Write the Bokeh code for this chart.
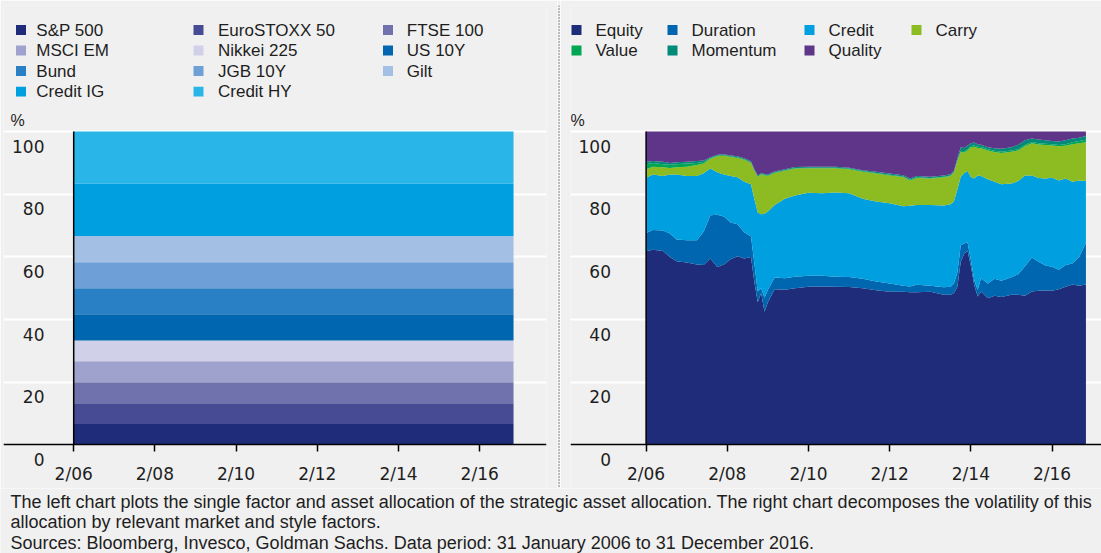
from bokeh.plotting import figure
from bokeh.models import Range1d, FixedTicker, Label, BoxAnnotation, Span, ColumnDataSource
from bokeh.layouts import row, column
from bokeh.embed import file_html
from bokeh.resources import INLINE

# ---------------- data: left chart (strategic asset allocation, %) ----------------
asset_names = ["S&P 500", "EuroSTOXX 50", "FTSE 100", "MSCI EM", "Nikkei 225",
               "US 10Y", "Bund", "JGB 10Y", "Gilt", "Credit IG", "Credit HY"]
asset_weights = [6.67, 6.67, 6.67, 6.67, 6.67, 8.33, 8.33, 8.33, 8.33, 16.67, 16.67]
asset_colors = ["#1f2c79", "#474b93", "#6f72ac", "#9fa2cc", "#d0d1e8",
                "#0066b0", "#2a80c4", "#6e9fd6", "#a3bfe4", "#00a0e0", "#2ab5e8"]
alloc_period = ["2006-02", "2016-12"]

# ---------------- data: right chart (volatility decomposition, %) ----------------
factor_names = ["Equity", "Duration", "Credit", "Carry", "Value", "Momentum", "Quality"]
factor_colors = ["#1f2c79", "#0066b0", "#00a0e0", "#8cbc22", "#00a651", "#008a78", "#5e3588"]

dates = ["2006-02", "2006-04", "2006-07", "2006-09", "2006-11", "2007-02", "2007-05", "2007-07",
         "2007-09", "2007-11", "2008-01", "2008-03", "2008-05", "2008-07", "2008-09", "2008-10",
         "2008-11", "2008-12", "2009-01", "2009-02", "2009-04", "2009-07", "2009-10", "2010-02",
         "2010-06", "2010-10", "2011-02", "2011-06", "2011-10", "2012-02", "2012-06", "2012-08",
         "2012-10", "2013-02", "2013-06", "2013-08", "2013-09", "2013-10", "2013-11", "2013-12",
         "2014-01", "2014-02", "2014-03", "2014-04", "2014-05", "2014-07", "2014-09", "2014-11",
         "2015-02", "2015-04", "2015-06", "2015-08", "2015-10", "2015-12", "2016-02", "2016-04",
         "2016-06", "2016-08", "2016-10", "2016-12"]
equity = [61.8, 62.3, 61.9, 60.0, 58.6, 58.2, 57.6, 57.4, 59.5, 56.8, 57.6, 59.3, 60.2, 59.5, 60.0, 52.0,
          45.5, 48.5, 42.5, 45.5, 49.7, 49.5, 50.0, 50.5, 50.6, 50.5, 50.4, 50.0, 49.4, 48.9, 48.9, 48.7,
          48.7, 48.9, 47.9, 47.9, 48.5, 50.5, 58.5, 61.0, 62.0, 57.0, 51.0, 47.4, 49.0, 46.8, 47.6, 47.2,
          47.9, 47.9, 47.6, 49.0, 49.2, 49.3, 49.2, 49.7, 50.5, 51.2, 50.8, 51.2]
duration = [5.8, 6.3, 6.5, 7.5, 7.0, 7.1, 7.7, 10.6, 13.8, 16.7, 15.3, 11.7, 10.2, 8.4, 6.5, 6.0,
            3.5, 1.5, 4.5, 4.0, 3.7, 3.7, 3.7, 3.5, 3.4, 3.2, 3.2, 3.0, 2.8, 2.6, 1.9, 1.9,
            2.4, 1.9, 2.4, 2.6, 3.1, 4.5, 5.2, 3.3, 2.7, 2.0, 1.5, 2.1, 4.2, 4.7, 5.4, 5.2,
            5.6, 6.6, 9.4, 10.8, 9.3, 8.0, 7.7, 6.2, 6.9, 6.7, 9.2, 13.3]
credit = [17.7, 17.7, 17.4, 18.8, 20.7, 20.5, 20.5, 18.7, 14.9, 13.5, 13.4, 14.8, 15.0, 16.1, 16.7, 20.5,
          25.2, 23.6, 26.8, 25.0, 23.2, 25.4, 25.9, 26.5, 26.3, 26.9, 26.7, 25.6, 25.5, 25.6, 25.4, 25.7,
          25.5, 25.8, 26.1, 26.3, 26.2, 26.5, 21.9, 22.4, 22.7, 26.5, 32.5, 36.5, 32.6, 33.3, 31.0, 30.8,
          29.9, 29.7, 29.0, 26.2, 26.7, 27.7, 28.4, 28.5, 27.6, 26.1, 24.4, 19.7]
carry = [2.7, 2.5, 2.8, 2.1, 2.3, 3.0, 3.5, 3.1, 3.1, 5.1, 6.0, 6.1, 6.2, 7.0, 6.8, 9.0,
         11.3, 12.7, 12.2, 11.3, 10.2, 8.9, 8.6, 7.8, 8.0, 7.7, 7.7, 8.6, 8.9, 8.9, 9.3, 8.1,
         8.6, 8.4, 9.0, 9.0, 9.2, 9.0, 7.9, 6.6, 6.6, 9.5, 10.2, 8.8, 8.9, 9.2, 9.5, 10.0,
         10.2, 9.8, 9.4, 10.3, 10.7, 10.7, 10.3, 10.9, 10.5, 12.0, 11.9, 12.4]
value_factor = [1.6, 1.2, 1.0, 1.0, 1.0, 1.0, 0.7, 0.5, 0.2, 0.2, 0.2, 0.2, 0.2, 0.2, 0.2, 0.2,
                0.2, 0.2, 0.2, 0.2, 0.2, 0.2, 0.2, 0.2, 0.2, 0.2, 0.2, 0.2, 0.2, 0.2, 0.2, 0.2,
                0.2, 0.2, 0.2, 0.2, 0.2, 0.3, 0.4, 0.4, 0.4, 0.4, 0.4, 0.4, 0.4, 0.4, 0.4, 0.4,
                0.4, 0.4, 0.4, 0.4, 0.4, 0.4, 0.4, 0.4, 0.5, 0.6, 0.7, 0.8]
momentum = [0.8, 0.6, 0.8, 0.6, 0.6, 0.6, 0.6, 0.5, 0.3, 0.3, 0.3, 0.3, 0.3, 0.3, 0.3, 0.3,
            0.3, 0.3, 0.3, 0.3, 0.3, 0.3, 0.3, 0.3, 0.3, 0.3, 0.3, 0.3, 0.4, 0.4, 0.4, 0.4,
            0.4, 0.4, 0.4, 0.4, 0.4, 0.7, 1.1, 1.1, 1.2, 0.9, 0.9, 0.8, 0.7, 0.6, 0.8, 0.9,
            1.0, 1.4, 1.4, 1.1, 1.2, 1.1, 1.0, 1.1, 1.2, 1.2, 1.0, 1.2]
quality = [9.6, 9.4, 9.6, 10.0, 9.8, 9.6, 9.4, 9.2, 8.2, 7.4, 7.2, 7.6, 7.9, 8.5, 9.5, 12.0,
           14.0, 13.2, 13.5, 13.7, 12.7, 12.0, 11.3, 11.2, 11.2, 11.2, 11.5, 12.3, 12.8, 13.4, 13.9, 15.0,
           14.2, 14.4, 14.0, 13.6, 12.4, 8.5, 5.0, 5.2, 4.4, 3.7, 3.5, 4.0, 4.2, 5.0, 5.3, 5.5,
           5.0, 4.2, 2.8, 2.2, 2.5, 2.8, 3.0, 3.2, 2.8, 2.2, 2.0, 1.4]
factor_series = [equity, duration, credit, carry, value_factor, momentum, quality]

# ---------------- axes text ----------------
x_tick_dates = ["2006-02", "2008-02", "2010-02", "2012-02", "2014-02", "2016-02"]
x_tick_labels = ["2/06", "2/08", "2/10", "2/12", "2/14", "2/16"]
y_ticks = [0, 20, 40, 60, 80, 100]
y_tick_labels = ["0", "20", "40", "60", "80", "100"]
unit_label = "%"
footer_lines = [
    "The left chart plots the single factor and asset allocation of the strategic asset allocation. The right chart decomposes the volatility of this",
    "allocation by relevant market and style factors.",
    "Sources: Bloomberg, Invesco, Goldman Sachs. Data period: 31 January 2006 to 31 December 2016.",
]

# ---------------- layout / style constants (page pixels) ----------------
BG = "#f0f0f0"
TXT = "#1e1e1e"
NUM_FONT = "DejaVu Sans"
TXT_FONT = "Liberation Sans"
PX_PER_YEAR = 40.6
PX_PER_PCT = 3.166
BASE_Y = 444
CANVAS_H = 488
LEG_ROWS = [24.8, 45.5, 66.2, 87.0]
SQ = 10


def ym(s):
    y, m = s.split("-")
    return int(y) + (int(m) - 1) / 12.0


def make_panel(canvas_left, width, frame_left, frame_right, yaxis_px, label_right_px):
    x0 = ym(x_tick_dates[0]) - (yaxis_px - frame_left) / PX_PER_YEAR
    x1 = x0 + (frame_right - frame_left) / PX_PER_YEAR
    p = figure(width=width, height=CANVAS_H, x_range=Range1d(x0, x1),
               y_range=Range1d((BASE_Y - CANVAS_H) / PX_PER_PCT, BASE_Y / PX_PER_PCT),
               output_backend="svg", toolbar_location=None, y_axis_location=None,
               min_border_left=frame_left - canvas_left,
               min_border_right=canvas_left + width - frame_right,
               min_border_top=0, min_border_bottom=0)
    p.background_fill_color = BG
    p.border_fill_color = BG
    p.outline_line_color = None
    p.xgrid.visible = False
    p.ygrid.ticker = FixedTicker(ticks=y_ticks[1:])
    p.ygrid.grid_line_color = "white"
    p.ygrid.grid_line_width = 2

    ticks = [ym(d) for d in x_tick_dates]
    ax = p.xaxis[0]
    ax.fixed_location = y_ticks[0]
    ax.ticker = FixedTicker(ticks=ticks)
    ax.major_label_overrides = {t: lab for t, lab in zip(ticks, x_tick_labels)}
    ax.axis_line_color = "black"
    ax.axis_line_width = 1.5
    ax.major_tick_line_color = "black"
    ax.major_tick_line_width = 1.5
    ax.major_tick_out = 7
    ax.major_tick_in = 0
    ax.minor_tick_line_color = None
    ax.major_label_standoff = 12
    ax.major_label_text_font = NUM_FONT
    ax.major_label_text_font_size = "17px"
    ax.major_label_text_color = TXT

    fx = lambda px: x0 + (px - frame_left) / PX_PER_YEAR
    fy = lambda py: (BASE_Y - py) / PX_PER_PCT

    # y axis line (from 0 to 100 at start of data)
    p.segment(x0=[ticks[0]], y0=[y_ticks[0]], x1=[ticks[0]], y1=[y_ticks[-1]],
              line_color="black", line_width=1.5)
    # y tick labels (placed below their grid lines as in the original)
    for v, lab in zip(y_ticks, y_tick_labels):
        p.add_layout(Label(x=fx(label_right_px), y=v, y_offset=-14.5, text=lab,
                           text_align="right", text_baseline="middle",
                           text_font=NUM_FONT, text_font_size="17px", text_color=TXT))
    return p, fx, fy


def add_legend(p, fx, fy, names, colors, sq_cols, txt_cols, ncols):
    for i, (n, c) in enumerate(zip(names, colors)):
        r, k = divmod(i, ncols)
        cy = LEG_ROWS[r]
        p.add_layout(BoxAnnotation(left=fx(sq_cols[k]), right=fx(sq_cols[k] + SQ),
                                   top=fy(cy - SQ / 2), bottom=fy(cy + SQ / 2),
                                   fill_color=c, fill_alpha=1.0, line_color=None))
        p.add_layout(Label(x=fx(txt_cols[k]), y=fy(cy), text=n, text_baseline="middle",
                           text_font=TXT_FONT, text_font_size="17px", text_color=TXT))


# ---------------- left panel ----------------
left, lfx, lfy = make_panel(0, 557, 3, 546, 73.2, 44)
lsrc = ColumnDataSource({"x": [ym(d) for d in alloc_period],
                         **{n: [w, w] for n, w in zip(asset_names, asset_weights)}})
left.varea_stack(stackers=asset_names, x="x", color=asset_colors, source=lsrc)
add_legend(left, lfx, lfy, asset_names, asset_colors,
           [15.5, 193.0, 382.5], [35.8, 217.5, 406.3], 3)
left.add_layout(Label(x=lfx(10), y=lfy(116), text=unit_label, text_baseline="middle",
                      text_font=TXT_FONT, text_font_size="16px", text_color=TXT))
left.renderers.append(left.renderers.pop(0))

# ---------------- separator ----------------
sep = figure(width=3, height=CANVAS_H, x_range=Range1d(0, 3), y_range=Range1d(0, 1),
             output_backend="svg", toolbar_location=None, x_axis_location=None,
             y_axis_location=None, min_border=0, min_border_top=5)
sep.background_fill_color = BG
sep.border_fill_color = BG
sep.outline_line_color = None
sep.grid.visible = False
sep.add_layout(Span(location=1.5, dimension="height", line_color="#444444",
                    line_width=1.2, line_dash="1 2"))

# ---------------- right panel ----------------
right, rfx, rfy = make_panel(560, 541, 570, 1101, 645.6, 610.5)
rsrc = ColumnDataSource({"x": [ym(d) for d in dates],
                         **{n: s for n, s in zip(factor_names, factor_series)}})
right.varea_stack(stackers=factor_names, x="x", color=factor_colors, source=rsrc)
add_legend(right, rfx, rfy, factor_names, factor_colors,
           [571.0, 667.0, 804.0, 911.0], [595.0, 691.0, 828.0, 935.0], 4)
right.add_layout(Label(x=rfx(570), y=rfy(116), text=unit_label, text_baseline="middle",
                       text_font=TXT_FONT, text_font_size="16px", text_color=TXT))
right.renderers.append(right.renderers.pop(0))

# ---------------- footer ----------------
foot = figure(width=1101, height=65, x_range=Range1d(0, 1101), y_range=Range1d(0, 65),
              output_backend="svg", toolbar_location=None, x_axis_location=None,
              y_axis_location=None, min_border=0)
foot.background_fill_color = BG
foot.border_fill_color = BG
foot.outline_line_color = None
foot.grid.visible = False
for i, line in enumerate(footer_lines):
    foot.add_layout(Label(x=10, y=553 - (501.0 + 20.5 * i), text=line, text_baseline="middle",
                          text_font=TXT_FONT, text_font_size="18px", text_color=TXT))

root = column(row(left, sep, right), foot,
              styles={"position": "absolute", "left": "0px", "top": "0px"})
open("out.html", "w").write(file_html(root, INLINE))
